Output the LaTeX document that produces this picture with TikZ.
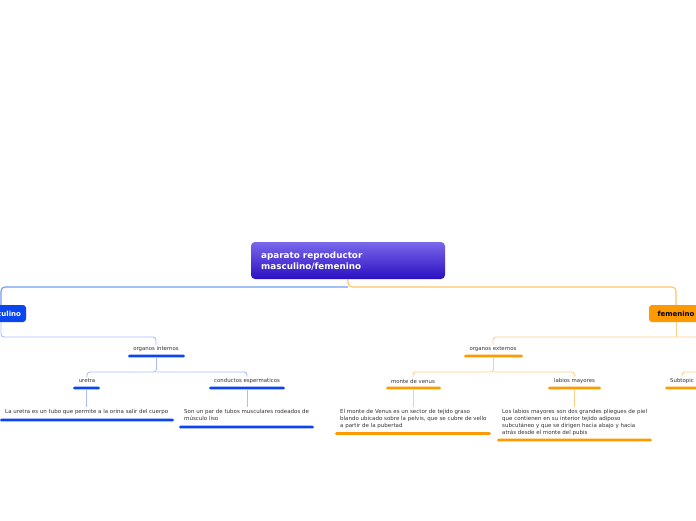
\documentclass[tikz,border=0pt]{standalone}
\usepackage{fontspec}
\setmainfont{DejaVu Sans}
\definecolor{txt}{HTML}{333333}
\definecolor{mblue}{HTML}{0A46F0}
\definecolor{lblue}{HTML}{A9BEFF}
\definecolor{rblue}{HTML}{6F9CF2}
\definecolor{morange}{HTML}{FF9900}
\definecolor{lorange}{HTML}{FFD08A}
\definecolor{rorange}{HTML}{FFC366}
\definecolor{rtop}{HTML}{7A68EA}
\definecolor{rbot}{HTML}{2A0FC2}
\begin{document}
\begin{tikzpicture}[x=1pt,y=-1pt,
  rootbox/.style={rounded corners=4pt, top color=rtop, bottom color=rbot, minimum width=194pt, minimum height=37pt, inner sep=0pt},
  mainbox/.style={rounded corners=3pt, minimum height=17pt, inner sep=0pt, font=\fontsize{7}{8}\selectfont\bfseries},
  lbl/.style={font=\fontsize{5.4}{6}\selectfont, text=txt, inner sep=1.5pt},
  desc/.style={font=\fontsize{5.5}{7}\selectfont, text=txt, align=left, inner sep=0pt, anchor=north west},
  bbar/.style={fill=mblue, rounded corners=1.4pt, minimum height=2.8pt, inner sep=0pt},
  obar/.style={fill=morange, rounded corners=1.4pt, minimum height=2.8pt, inner sep=0pt},
  bcon/.style={draw=lblue, line width=0.9pt, rounded corners=3pt},
  ocon/.style={draw=lorange, line width=0.9pt, rounded corners=3pt},
]
\useasboundingbox[fill=white] (0,0) rectangle (696,520);

% root
\node[rootbox] (root) at (348,260.5) {};
\node[anchor=west, text=white, align=left, inner sep=0pt, font=\fontsize{8.8}{11}\selectfont\bfseries] (roottext) at (261,261.5) {aparato reproductor\\masculino/femenino};

% main topics
\node[mainbox, fill=mblue, text=white, minimum width=50pt] (masc) at (1,313.5) {masculino};
\node[mainbox, fill=morange, text=black, minimum width=54pt] (fem) at (676,313.5) {femenino};

\coordinate (split) at (348,287);
\draw[draw=rorange, line width=1.1pt, rounded corners=4pt] (root.south) -- (split) -| (fem.north);
\draw[draw=rblue, line width=1.1pt, rounded corners=4pt] (split) -| (masc.north);

% masculino subtree
\node[lbl] (oi) at (156,349) {organos internos};
\node[bbar, minimum width=57pt] (oibar) at (156.5,356) {};
\draw[bcon] (masc.south) |- (156,337) -- (oi.north);

\node[lbl] (ur) at (87,381) {uretra};
\node[bbar, minimum width=27pt] (urbar) at (86.5,388) {};
\node[lbl] (ce) at (247,381) {conductos espermaticos};
\node[bbar, minimum width=76pt] (cebar) at (247,388) {};
\coordinate (oij) at (156.5,372);
\draw[bcon] (oibar.south) -- (oij) -| (ur.north);
\draw[bcon] (oij) -| (ce.north);

\node[desc] (urd) at (5,409.5) {La uretra es un tubo que permite a la orina salir del cuerpo};
\node[bbar, minimum width=174pt] (urdbar) at (87,420) {};
\draw[bcon, shorten >=3pt] (urbar.south) -- (urbar.south |- urd.north);

\node[desc] (ced) at (184,409.5) {Son un par de tubos musculares rodeados de\\músculo liso};
\node[bbar, minimum width=135pt] (cedbar) at (246.5,427) {};
\draw[bcon, shorten >=3pt] (cebar.south) -- (cebar.south |- ced.north);

% femenino subtree
\coordinate (femoff) at (700,337);
\node[lbl] (oe) at (493,349) {organos externos};
\node[obar, minimum width=59pt] (oebar) at (493.5,356) {};
\draw[ocon] (oe.north) -- (493,337) -- (femoff);
\draw[ocon] (fem.south) -- (fem.south |- femoff);

\node[lbl] (mv) at (413,381) {monte de venus};
\node[obar, minimum width=55pt] (mvbar) at (413.5,388) {};
\node[lbl] (lm) at (574.5,381) {labios mayores};
\node[obar, minimum width=53pt] (lmbar) at (574.5,388) {};
\coordinate (oej) at (493.5,372);
\draw[ocon] (oebar.south) -- (oej) -| (mv.north);
\draw[ocon] (oej) -| (lm.north);

\node[lbl] (st) at (682,381) {Subtopic};
\node[obar, minimum width=36pt] (stbar) at (683,388) {};
\coordinate (stoff) at (700,372);
\draw[ocon] (stoff) -| (st.north);

\node[desc] (mvd) at (340,409.5) {El monte de Venus es un sector de tejido graso\\blando ubicado sobre la pelvis, que se cubre de vello\\a partir de la pubertad};
\node[obar, minimum width=156pt] (mvdbar) at (413,433.5) {};
\draw[ocon, shorten >=3pt] (mvbar.south) -- (mvbar.south |- mvd.north);

\node[desc] (lmd) at (502,409.5) {Los labios mayores son dos grandes pliegues de piel\\que contienen en su interior tejido adiposo\\subcutáneo y que se dirigen hacia abajo y hacia\\atrás desde el monte del pubis};
\node[obar, minimum width=155pt] (lmdbar) at (574.5,440) {};
\draw[ocon, shorten >=3pt] (lmbar.south) -- (lmbar.south |- lmd.north);
\end{tikzpicture}
\end{document}
